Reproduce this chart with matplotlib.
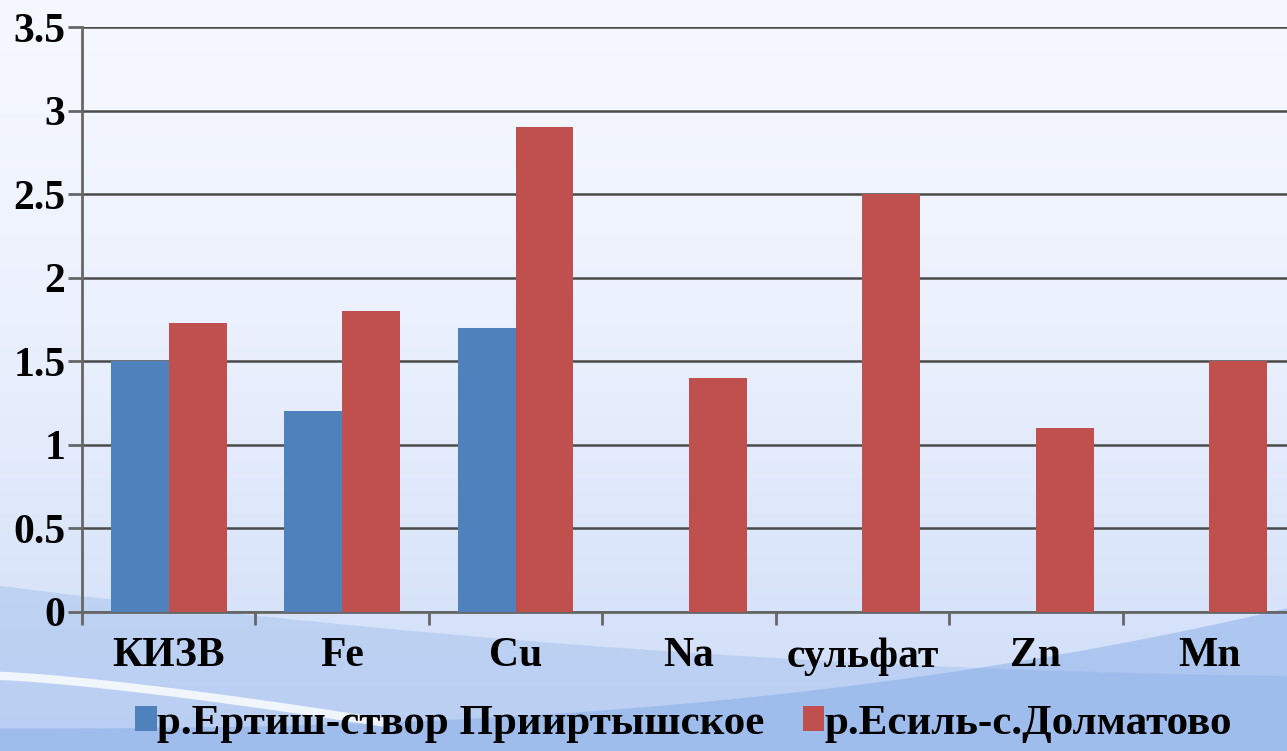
import numpy as np
import matplotlib.pyplot as plt

categories = ["КИЗВ", "Fe", "Cu", "Na", "сульфат", "Zn", "Mn"]
irtysh = [1.5, 1.2, 1.7, 0, 0, 0, 0]
esil = [1.73, 1.8, 2.9, 1.4, 2.5, 1.1, 1.5]
series_names = ["р.Ертиш-створ Прииртышское", "р.Есиль-с.Долматово"]
yticks = [0, 0.5, 1, 1.5, 2, 2.5, 3, 3.5]
ytick_labels = ["0", "0.5", "1", "1.5", "2", "2.5", "3", "3.5"]

plt.rcParams['font.family'] = ['Liberation Serif', 'DejaVu Serif']
plt.rcParams['font.weight'] = 'bold'

fig = plt.figure(figsize=(12.87, 7.51), dpi=100)

# background: pale gradient with a blue swoosh at the bottom
bg = fig.add_axes([0, 0, 1, 1], zorder=0)
grad = np.linspace(0, 1, 256).reshape(-1, 1)
top = np.array([0.96, 0.97, 1.0])
bot = np.array([0.80, 0.86, 0.97])
img = top + (bot - top) * grad[..., None] ** 1.6
bg.imshow(img, aspect='auto', extent=[0, 1, 0, 1], origin='upper')
xs = np.linspace(0, 1, 200)
bg.fill_between(xs, 0, 0.12 + 0.10 * (1 - xs) ** 2 - 0.02 * xs, color='#a9c4ee', alpha=0.55, lw=0)
bg.fill_between(xs, 0, 0.03 + 0.16 * xs ** 2.5, color='#7fa8e6', alpha=0.45, lw=0)
bg.plot(xs[:60], 0.1 - 0.3 * xs[:60] ** 1.3, color='white', lw=6, alpha=0.8)
bg.set_xlim(0, 1)
bg.set_ylim(0, 1)
bg.axis('off')

ax = fig.add_axes([82 / 1287, 1 - 612 / 751, 1214 / 1287, 585 / 751], zorder=1)
ax.patch.set_alpha(0)

x = np.arange(len(categories))
w = 1 / 3
ax.bar(x - w / 2, irtysh, w, color='#4f81bd', label=series_names[0], zorder=3)
ax.bar(x + w / 2, esil, w, color='#c0504d', label=series_names[1], zorder=3)

ax.set_xlim(-0.5, len(categories) - 0.5)
ax.set_ylim(0, 3.5)
ax.set_yticks(yticks)
ax.set_yticklabels(ytick_labels, fontsize=30, fontweight='bold')
ax.yaxis.grid(True, color='#4a4a4a', lw=1.8)
ax.set_axisbelow(True)

ax.set_xticks(x)
ax.set_xticklabels(categories, fontsize=30, fontweight='bold')
ax.set_xticks(np.arange(-0.5, len(categories)), minor=True)
ax.tick_params(axis='x', which='major', length=0, pad=18)
ax.tick_params(axis='x', which='minor', length=9, width=2, color='#666666')
ax.tick_params(axis='y', length=10, width=2, color='#666666', pad=2)

for s in ['top', 'right']:
    ax.spines[s].set_visible(False)
for s in ['left', 'bottom']:
    ax.spines[s].set_color('#666666')
    ax.spines[s].set_linewidth(2)

fig.legend(loc='center', bbox_to_anchor=(0.531, 0.036), ncol=2, frameon=False,
           handlelength=0.5, handleheight=0.5, handletextpad=0.0,
           columnspacing=0.9, prop={'weight': 'bold', 'size': 31})

fig.savefig("out.png", dpi=100)
